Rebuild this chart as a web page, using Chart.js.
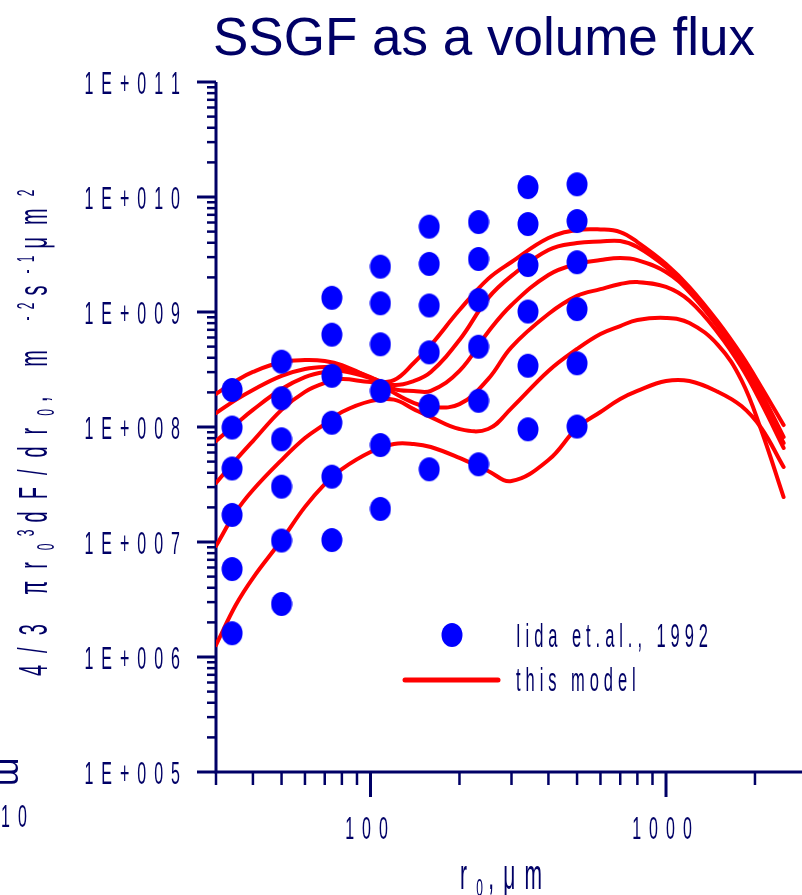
<!DOCTYPE html>
<html>
<head>
<meta charset="utf-8">
<title>SSGF as a volume flux</title>
<script src="https://cdn.jsdelivr.net/npm/chart.js@4.4.0/dist/chart.umd.min.js"></script>
<style>
  html, body { margin: 0; padding: 0; background: #fff; overflow: hidden; }
  canvas { display: block; }
</style>
</head>
<body>
<canvas id="myChart" width="810" height="895"></canvas>
<script>
// radius grid of the model curves (um)
const radii = [30, 35, 40, 50, 60, 70, 80, 100, 120, 140, 160, 200, 250, 300, 400, 500, 600, 700, 800, 1000, 1200, 1500, 1800, 2100, 2500];

// six model curves
const model1 = [3.26e7, 5.16e7, 7.55e7, 1.41e8, 2.02e8, 2.41e8, 2.61e8, 2.46e8, 2.56e8, 3.60e8, 5.16e8, 1.04e9, 1.94e9, 2.72e9, 4.40e9, 5.16e9, 5.22e9, 4.96e9, 4.06e9, 2.62e9, 1.65e9, 8.19e8, 4.23e8, 2.23e8, 1.04e8];
const model2 = [7.55e7, 1.06e8, 1.41e8, 2.14e8, 2.72e8, 3.01e8, 3.07e8, 2.67e8, 2.32e8, 2.51e8, 3.01e8, 5.71e8, 1.32e9, 2.06e9, 3.46e9, 3.98e9, 4.10e9, 4.14e9, 3.67e9, 2.46e9, 1.58e9, 7.86e8, 3.98e8, 1.98e8, 8.19e7];
const model3 = [1.32e8, 1.72e8, 2.10e8, 2.78e8, 3.19e8, 3.32e8, 3.26e8, 2.72e8, 2.14e8, 2.06e8, 2.06e8, 3.07e8, 6.70e8, 1.15e9, 2.10e9, 2.62e9, 2.83e9, 2.95e9, 2.83e9, 2.23e9, 1.49e9, 7.41e8, 3.67e8, 1.79e8, 7.26e7];
const model4 = [1.94e8, 2.51e8, 3.01e8, 3.67e8, 3.82e8, 3.75e8, 3.46e8, 2.67e8, 1.98e8, 1.62e8, 1.49e8, 1.58e8, 2.61e8, 4.96e8, 9.61e8, 1.38e9, 1.58e9, 1.75e9, 1.82e9, 1.65e9, 1.25e9, 6.57e8, 3.32e8, 1.62e8, 6.57e7];
const model5 = [9.23e6, 1.82e7, 2.83e7, 5.16e7, 8.02e7, 1.06e8, 1.35e8, 1.68e8, 1.73e8, 1.43e8, 1.22e8, 9.61e7, 9.61e7, 1.46e8, 3.07e8, 4.77e8, 6.44e8, 7.55e8, 8.52e8, 8.87e8, 8.02e8, 5.16e8, 2.56e8, 9.42e7, 2.46e7];
const model6 = [1.27e6, 2.83e6, 4.86e6, 1.04e7, 2.02e7, 3.19e7, 4.31e7, 6.06e7, 7.12e7, 7.12e7, 6.70e7, 5.38e7, 4.14e7, 3.39e7, 5.16e7, 9.80e7, 1.35e8, 1.75e8, 2.06e8, 2.51e8, 2.51e8, 2.02e8, 1.52e8, 9.80e7, 4.49e7];

// Iida et al. 1992 measurements, rows from top to bottom
const iidaRadii = [34, 50, 74, 108, 158, 232, 341, 500];
const iidaRow1 = [2.10e8, 3.70e8, 1.33e9, 2.48e9, 5.52e9, 6.06e9, 1.22e10, 1.29e10];
const iidaRow2 = [9.90e7, 1.78e8, 6.35e8, 1.19e9, 2.62e9, 2.89e9, 5.82e9, 6.18e9];
const iidaRow3 = [4.36e7, 7.82e7, 2.79e8, 5.24e8, 1.14e9, 1.27e9, 2.56e9, 2.71e9];
const iidaRow4 = [1.72e7, 3.03e7, 1.09e8, 2.06e8, 4.46e8, 4.99e8, 1.01e9, 1.06e9];
const iidaRow5 = [5.82e6, 1.03e7, 3.70e7, 6.97e7, 1.53e8, 1.69e8, 3.41e8, 3.58e8];
const iidaRow6 = [1.61e6, 2.89e6, 1.04e7, 1.94e7, 4.29e7, 4.74e7, 9.55e7, 1.01e8];

// axis ticks
const yTickValues = [1e5, 1e6, 1e7, 1e8, 1e9, 1e10, 1e11];
const yTickLabels = ['1E+005', '1E+006', '1E+007', '1E+008', '1E+009', '1E+010', '1E+011'];
const xTickValues = [100, 1000];
const xTickLabels = ['100', '1000'];

const NAVY = '#000066';
const FONT = '"Liberation Sans", Arial, sans-serif';

// condensed, letter-spaced text like the original plot program
function layoutText(ctx, parts, squeeze) {
  const glyphs = [];
  let x = 0, lastGap = 0;
  for (const p of parts) {
    ctx.font = p.size + 'px ' + FONT;
    for (const ch of p.t) {
      const w = ctx.measureText(ch).width * squeeze;
      glyphs.push({ ch: ch, x: x, size: p.size, dy: p.dy || 0 });
      lastGap = p.size * p.gap;
      x += w + lastGap;
    }
  }
  return { glyphs: glyphs, width: x - lastGap };
}

function drawText(ctx, parts, squeeze, x0, y0, align) {
  const L = layoutText(ctx, parts, squeeze);
  let sx = x0;
  if (align === 'right') sx -= L.width;
  else if (align === 'center') sx -= L.width / 2;
  ctx.textAlign = 'left';
  ctx.textBaseline = 'alphabetic';
  for (const g of L.glyphs) {
    ctx.font = g.size + 'px ' + FONT;
    ctx.save();
    ctx.translate(sx + g.x, y0 + g.dy);
    ctx.scale(squeeze, 1);
    ctx.fillText(g.ch, 0, 0);
    ctx.restore();
  }
}

// blue elliptical marker
const dotImg = document.createElement('canvas');
dotImg.width = 22; dotImg.height = 26;
(function () {
  const d = dotImg.getContext('2d');
  d.fillStyle = '#0000ff';
  d.beginPath();
  d.ellipse(11, 13, 10.5, 12, 0, 0, 2 * Math.PI);
  d.fill();
})();

const iidaRows = [iidaRow1, iidaRow2, iidaRow3, iidaRow4, iidaRow5, iidaRow6];
const iidaPoints = [];
iidaRows.forEach(row => row.forEach((v, i) => iidaPoints.push({ x: iidaRadii[i], y: v })));

const models = [model1, model2, model3, model4, model5, model6];
const modelSets = models.map((m, k) => ({
  label: k === 0 ? 'this model' : '',
  data: radii.map((r, i) => ({ x: r, y: m[i] })),
  showLine: true,
  borderColor: '#ff0000',
  borderWidth: 4,
  borderCapStyle: 'round',
  pointRadius: 0,
  tension: 0.4,
  fill: false,
  order: 1
}));

const decor = {
  id: 'decor',
  beforeDatasetsDraw(chart) {
    const ctx = chart.ctx, xs = chart.scales.x, ys = chart.scales.y, a = chart.chartArea;
    ctx.save();
    ctx.strokeStyle = NAVY;
    ctx.fillStyle = NAVY;

    // title
    ctx.font = '53px ' + FONT;
    ctx.textAlign = 'left';
    ctx.textBaseline = 'alphabetic';
    ctx.fillText('SSGF as a volume flux', 213, 55);

    // axis lines
    ctx.lineWidth = 3;
    ctx.beginPath();
    ctx.moveTo(a.left, a.top);
    ctx.lineTo(a.left, a.bottom);
    ctx.lineTo(chart.width, a.bottom);
    ctx.stroke();

    // y ticks (left of the axis)
    for (let e = 5; e <= 11; e++) {
      for (let m = 1; m <= 9; m++) {
        const v = m * Math.pow(10, e);
        if (v > ys.max) break;
        const py = ys.getPixelForValue(v);
        ctx.lineWidth = m === 1 ? 3 : 2.5;
        ctx.beginPath();
        ctx.moveTo(a.left - (m === 1 ? 19 : 9), py);
        ctx.lineTo(a.left, py);
        ctx.stroke();
      }
    }
    // x ticks (below the axis)
    for (let e = 1; e <= 3; e++) {
      for (let m = 1; m <= 9; m++) {
        const v = m * Math.pow(10, e);
        if (v < xs.min || v > xs.max) continue;
        const px = xs.getPixelForValue(v);
        ctx.lineWidth = m === 1 ? 3 : 2.5;
        ctx.beginPath();
        ctx.moveTo(px, a.bottom);
        ctx.lineTo(px, a.bottom + (m === 1 ? 25 : 13));
        ctx.stroke();
      }
    }

    // tick labels
    yTickValues.forEach((v, i) => {
      const py = ys.getPixelForValue(v);
      drawText(ctx, [{ t: yTickLabels[i], size: 32, gap: 0.25 }], 0.5, 180, py + 12, 'right');
    });
    xTickValues.forEach((v, i) => {
      const px = xs.getPixelForValue(v);
      drawText(ctx, [{ t: xTickLabels[i], size: 32, gap: 0.25 }], 0.5, px - 4, 839, 'center');
    });

    // x axis title
    drawText(ctx, [
      { t: 'r', size: 42, gap: 0.22 },
      { t: '0', size: 24, gap: 0.22, dy: 7 },
      { t: ',\u03bcm', size: 42, gap: 0.22 }
    ], 0.5, 460, 889, 'left');

    // y axis title, rotated
    ctx.save();
    ctx.translate(47, 676);
    ctx.rotate(-Math.PI / 2);
    drawText(ctx, [
      { t: '4/3 \u03c0r', size: 40, gap: 0.3 },
      { t: '0', size: 24, gap: 0.3, dy: 7 },
      { t: '3', size: 24, gap: 0.3, dy: -13 },
      { t: 'dF/dr', size: 40, gap: 0.3 },
      { t: '0', size: 24, gap: 0.3, dy: 7 },
      { t: ', m ', size: 40, gap: 0.3 },
      { t: '-2', size: 24, gap: 0.3, dy: -13 },
      { t: 's', size: 40, gap: 0.3 },
      { t: '-1', size: 24, gap: 0.3, dy: -13 },
      { t: '\u03bcm', size: 40, gap: 0.3 },
      { t: '2', size: 24, gap: 0.3, dy: -13 }
    ], 0.5, 0, 0, 'left');
    ctx.restore();

    // bits of the neighbouring panel at the left edge
    ctx.save();
    ctx.translate(9, 772);
    ctx.rotate(Math.PI / 2);
    ctx.font = '34px ' + FONT;
    ctx.textAlign = 'center';
    ctx.textBaseline = 'middle';
    ctx.fillText('m', 0, 0);
    ctx.restore();
    drawText(ctx, [{ t: '10', size: 32, gap: 0.25 }], 0.5, 1, 827, 'left');

    // legend
    ctx.drawImage(dotImg, 452 - dotImg.width / 2, 635 - dotImg.height / 2);
    ctx.strokeStyle = '#ff0000';
    ctx.lineWidth = 5;
    ctx.lineCap = 'round';
    ctx.beginPath();
    ctx.moveTo(405, 680);
    ctx.lineTo(498, 680);
    ctx.stroke();
    ctx.fillStyle = NAVY;
    drawText(ctx, [{ t: 'Iida et.al., 1992', size: 33, gap: 0.15 }], 0.5, 516, 647, 'left');
    drawText(ctx, [{ t: 'this model', size: 33, gap: 0.15 }], 0.5, 516, 691, 'left');

    ctx.restore();
  }
};

new Chart(document.getElementById('myChart'), {
  type: 'scatter',
  data: {
    datasets: [{
      label: 'Iida et.al., 1992',
      data: iidaPoints,
      pointStyle: dotImg,
      pointRadius: 11,
      showLine: false,
      order: 0
    }].concat(modelSets)
  },
  options: {
    responsive: false,
    maintainAspectRatio: false,
    animation: false,
    events: [],
    layout: { autoPadding: false, padding: { left: 216, top: 82, right: 3, bottom: 123 } },
    plugins: {
      legend: { display: false },
      title: { display: false },
      tooltip: { enabled: false }
    },
    scales: {
      x: { type: 'logarithmic', min: 30, max: 3000, bounds: 'data', display: false },
      y: { type: 'logarithmic', min: 1e5, max: 1e11, bounds: 'data', display: false }
    }
  },
  plugins: [decor]
});
</script>
</body>
</html>
